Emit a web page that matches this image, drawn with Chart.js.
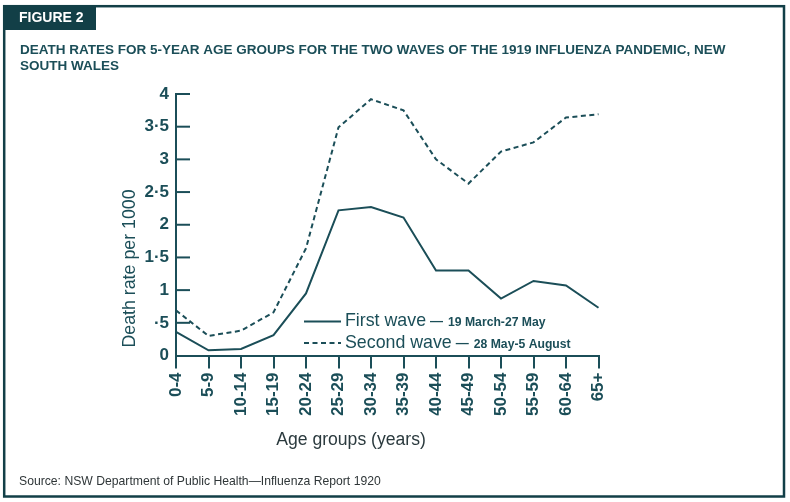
<!DOCTYPE html>
<html>
<head>
<meta charset="utf-8">
<script src="https://cdn.jsdelivr.net/npm/chart.js@4.4.1/dist/chart.umd.min.js"></script>
<style>
html,body{margin:0;padding:0;background:#fff;}
#c{display:block;}
</style>
</head>
<body>
<canvas id="c" width="790" height="502"></canvas>
<script>
const ageGroups = ['0-4','5-9','10-14','15-19','20-24','25-29','30-34','35-39','40-44','45-49','50-54','55-59','60-64','65+'];
const firstWave = [0.36,0.08,0.10,0.31,0.95,2.22,2.27,2.11,1.30,1.30,0.87,1.14,1.07,0.73];
const secondWave = [0.69,0.30,0.38,0.66,1.64,3.49,3.92,3.75,3.00,2.63,3.12,3.26,3.64,3.69];
const yTickValues = [0,0.5,1,1.5,2,2.5,3,3.5,4];
const yTickLabels = ['0','·5','1','1·5','2','2·5','3','3·5','4'];

const FONT = '"Liberation Sans", Arial, Helvetica, sans-serif';
const TEAL = '#1b4e58';
const DARK = '#123f47';

const deco = {
  id: 'deco',
  beforeDraw(chart) {
    const ctx = chart.ctx;
    ctx.save();
    ctx.fillStyle = '#fff';
    ctx.fillRect(0, 0, 790, 502);
    ctx.strokeStyle = DARK;
    ctx.lineWidth = 2.5;
    ctx.strokeRect(4.2, 6.2, 779.8, 490.3);
    ctx.fillStyle = DARK;
    ctx.fillRect(3, 5, 93, 25);
    ctx.fillStyle = '#fff';
    ctx.font = 'bold 14px ' + FONT;
    ctx.textBaseline = 'middle';
    ctx.textAlign = 'left';
    ctx.fillText('FIGURE 2', 19, 18.5);
    ctx.fillStyle = TEAL;
    ctx.font = 'bold 13.5px ' + FONT;
    ctx.fillText('DEATH RATES FOR 5-YEAR AGE GROUPS FOR THE TWO WAVES OF THE 1919 INFLUENZA PANDEMIC, NEW', 20, 50.5);
    ctx.fillText('SOUTH WALES', 20, 66);
    ctx.fillStyle = '#2f3638';
    ctx.font = '12.2px ' + FONT;
    ctx.fillText('Source: NSW Department of Public Health\u2014Influenza Report 1920', 19, 481.5);
    ctx.restore();
  },
  afterDraw(chart) {
    const ctx = chart.ctx;
    const y = chart.scales.y;
    const area = chart.chartArea;
    ctx.save();
    ctx.strokeStyle = TEAL;
    ctx.lineWidth = 2;
    y.ticks.forEach(t => {
      if (t.value === 0) return;
      const py = y.getPixelForValue(t.value);
      ctx.beginPath();
      ctx.moveTo(area.left, py);
      ctx.lineTo(area.left + 14, py);
      ctx.stroke();
    });
    ctx.fillStyle = TEAL;
    ctx.font = '17.8px ' + FONT;
    ctx.textAlign = 'center';
    ctx.textBaseline = 'middle';
    ctx.save();
    ctx.translate(130, 268.5);
    ctx.rotate(-Math.PI / 2);
    ctx.fillText('Death rate per 1000', 0, 0);
    ctx.restore();
    ctx.fillStyle = '#2b3a3e';
    ctx.font = '17.6px ' + FONT;
    ctx.fillText('Age groups (years)', 351, 440);
    const items = [
      {label: 'First wave', note: '19 March-27 May', dash: [], y: 321.5},
      {label: 'Second wave', note: '28 May-5 August', dash: [5, 3.5], y: 343}
    ];
    items.forEach(it => {
      ctx.strokeStyle = TEAL;
      ctx.lineWidth = 2;
      ctx.setLineDash(it.dash);
      ctx.beginPath();
      ctx.moveTo(304, it.y);
      ctx.lineTo(341, it.y);
      ctx.stroke();
      ctx.setLineDash([]);
      ctx.textAlign = 'left';
      ctx.fillStyle = TEAL;
      ctx.font = '17.8px ' + FONT;
      ctx.fillText(it.label, 345, it.y);
      let x = 345 + ctx.measureText(it.label).width + 4;
      ctx.font = 'bold 13px ' + FONT;
      ctx.fillText('\u2014', x, it.y);
      x += ctx.measureText('\u2014').width + 5;
      ctx.font = 'bold 12.2px ' + FONT;
      ctx.fillText(it.note, x, it.y + 1.5);
    });
    ctx.restore();
  }
};

new Chart(document.getElementById('c'), {
  type: 'line',
  data: {
    labels: ageGroups,
    datasets: [
      {label: 'First wave', data: firstWave, borderColor: TEAL, borderWidth: 2, pointRadius: 0, tension: 0, fill: false},
      {label: 'Second wave', data: secondWave, borderColor: TEAL, borderWidth: 2, borderDash: [5, 3.5], pointRadius: 0, tension: 0, fill: false}
    ]
  },
  options: {
    responsive: false,
    animation: false,
    devicePixelRatio: 1,
    layout: {padding: {left: 0, top: 94, right: 191.5, bottom: 86.5}},
    plugins: {legend: {display: false}, tooltip: {enabled: false}},
    scales: {
      x: {
        type: 'category',
        offset: false,
        grid: {display: true, drawOnChartArea: false, drawTicks: true, tickLength: 13, color: TEAL, lineWidth: 2, offset: false},
        border: {display: true, color: TEAL, width: 2},
        ticks: {
          color: TEAL, autoSkip: false, minRotation: 90, maxRotation: 90, padding: 4,
          font: {family: FONT, size: 17, weight: 'bold'}
        },
        afterFit(scale) { scale.height = 60; }
      },
      y: {
        min: 0, max: 4,
        grid: {display: false, drawTicks: false},
        border: {display: true, color: TEAL, width: 2},
        ticks: {
          stepSize: 0.5, padding: 7, color: TEAL,
          font: {family: FONT, size: 17, weight: 'bold'},
          callback: (v) => { const i = yTickValues.indexOf(v); return i >= 0 ? yTickLabels[i] : ''; }
        },
        afterFit(scale) { scale.width = 176; }
      }
    }
  },
  plugins: [deco]
});
</script>
</body>
</html>
